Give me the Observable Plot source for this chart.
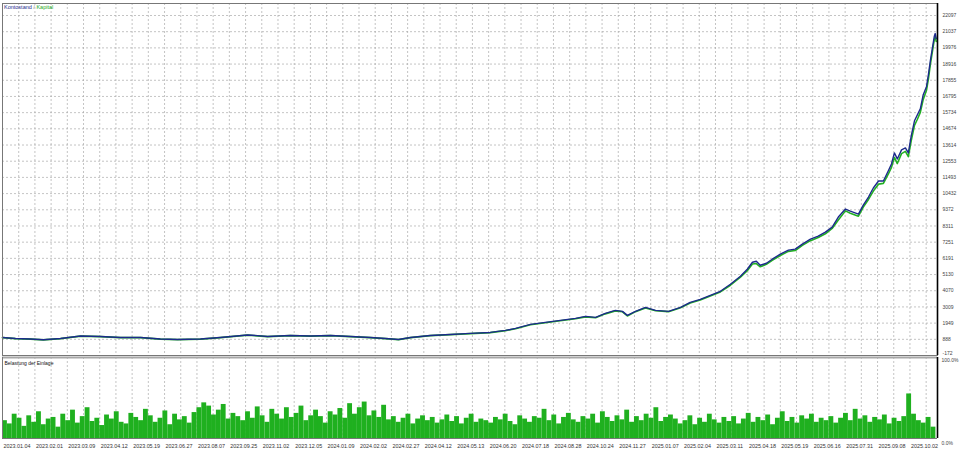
<!DOCTYPE html>
<html>
<head>
<meta charset="utf-8">
<script src="https://cdn.jsdelivr.net/npm/d3@7"></script>
<script src="https://cdn.jsdelivr.net/npm/@observablehq/plot@0.6"></script>
<style>
  html, body { margin: 0; padding: 0; background: #fff; }
  #wrap { position: relative; width: 960px; height: 451px; overflow: hidden; font-family: "Liberation Sans", sans-serif; }
  #wrap svg { display: block; }
  #legend { position: absolute; left: 4px; top: 3px; font-size: 5.5px; font-family: "Liberation Sans", sans-serif; line-height: 8px; }
</style>
</head>
<body>
<div id="wrap">
  <div id="main"></div>
  <div id="load"></div>
  <div id="legend"><span style="color:#1c2a8c">Kontostand</span><span style="color:#888"> / </span><span style="color:#1aa81a">Kapital</span></div>
</div>
<script>
// ---- data (deal number -> balance / equity) ----
const tradeNo = [0,40,86,126,179,241,302,364,426,487,540,611,672,756,818,888,950,1012,1074,1135,1182,1222,1259,1320,1382,1444,1505,1552,1583,1629,1675,1721,1768,1799,1830,1860,1891,1913,1928,1953,1984,2015,2055,2092,2122,2153,2184,2215,2246,2277,2298,2314,2326,2338,2357,2375,2400,2425,2446,2468,2493,2517,2539,2560,2579,2601,2616,2641,2656,2672,2687,2703,2718,2733,2743,2752,2761,2774,2786,2795,2804,2814,2823,2832,2841,2851,2857,2863,2869,2875,2878,2881];
const balance = [1011,945,912,859,945,1109,1077,1011,1011,912,879,912,1011,1175,1077,1142,1109,1142,1077,1011,945,879,1011,1142,1208,1274,1339,1471,1602,1865,1996,2128,2259,2390,2325,2587,2784,2719,2456,2719,2982,2784,2719,2982,3311,3508,3770,4033,4493,5018,5478,5938,6003,5741,5872,6135,6463,6726,6792,7120,7448,7645,7908,8237,8894,9419,9288,9090,9682,10207,10798,11258,11258,11915,12375,13097,12703,13294,13426,13097,14214,15200,15594,15988,16908,17433,18221,19141,19929,20717,20915,20586];
const equity = [1000,935,900,850,935,1095,1065,1000,1000,900,870,900,1000,1160,1065,1130,1095,1130,1065,1000,935,870,1000,1130,1195,1260,1325,1455,1585,1840,1975,2105,2235,2360,2300,2555,2750,2690,2420,2700,2940,2760,2700,2950,3270,3470,3730,3990,4430,4960,5380,5820,5850,5640,5800,6060,6380,6650,6700,7040,7350,7560,7800,8150,8700,9300,9150,8950,9550,10050,10600,11050,11100,11700,12150,12800,12400,13050,13200,12850,13900,14900,15300,15750,16600,17200,17950,18900,19700,20500,20700,20400];

// deposit load (%), one value per 15 deals
const loadStep = 15;
const loadPct = [22,18,30,25,15,28,20,33,17,24,
 26,14,30,22,35,19,27,38,21,25,
 16,29,24,33,20,18,31,26,22,36,
 28,20,25,34,17,30,23,27,19,32,
 38,44,40,29,35,42,24,31,27,22,
 33,25,39,28,20,36,30,24,38,26,
 31,40,22,28,35,27,19,33,29,37,
 25,43,30,38,45,28,34,26,41,23,
 27,20,25,30,18,24,28,22,26,19,
 23,29,21,27,18,25,30,20,24,22,
 19,26,23,30,21,17,28,24,20,27,
 25,36,22,29,18,26,31,23,20,27,
 24,30,19,33,26,21,28,23,35,20,
 27,22,30,25,38,21,26,29,24,18,
 22,28,17,25,20,30,23,19,26,21,
 27,18,24,31,20,26,22,29,17,25,
 33,21,26,19,28,24,30,20,25,22,
 27,19,25,31,22,36,24,28,20,26,
 23,29,18,25,21,27,55,30,22,19,26,14];

// axis labels
const yTicks = [-172,888,1949,3009,4070,5130,6191,7251,8311,9372,10432,11493,12553,13614,14674,15734,16795,17855,18916,19976,21037,22097];
const dateLabels = ["2023.01.04","2023.02.01","2023.03.09","2023.04.12","2023.05.19","2023.06.27","2023.08.07","2023.09.25","2023.11.02","2023.12.05","2024.01.09","2024.02.02","2024.02.27","2024.04.12","2024.05.13","2024.06.20","2024.07.18","2024.08.28","2024.10.24","2024.11.27","2025.01.07","2025.02.04","2025.03.11","2025.04.18","2025.05.19","2025.06.16","2025.07.31","2025.09.08","2025.10.02"];
const labelEvery = 100;   // deals between date labels
const gridEvery = 50;     // deals between vertical grid lines
const xMax = 2885;
const yTop = 22883;

// ---- derived tables ----
const series = tradeNo.map((t, i) => ({t, bal: balance[i], eq: equity[i]}));
const loads = loadPct.map((p, i) => ({t0: i * loadStep, t1: (i + 1) * loadStep, p}));
const gridX = d3.range(0, xMax, gridEvery);
const labelRows = dateLabels.map((s, i) => ({t: i * labelEvery, s}));
const yLabelRows = yTicks.map((v, i) => ({v, low: i === 0}));

const W = 960, ML = 2, MR = 23;
const font = "Liberation Sans, sans-serif";
const gridStyle = {stroke: "#a8a8a8", strokeOpacity: 0.85, strokeDasharray: "2,2", strokeWidth: 0.8};

const main = Plot.plot({
  width: W, height: 356,
  marginLeft: ML, marginRight: MR, marginTop: 3, marginBottom: 1,
  style: {fontFamily: font, background: "#fff"},
  x: {domain: [0, xMax], axis: null},
  y: {domain: [-172, yTop], axis: null},
  marks: [
    Plot.ruleX(gridX, gridStyle),
    Plot.ruleY(yTicks, gridStyle),
    Plot.line(series, {x: "t", y: "eq", stroke: "#22b022", strokeWidth: 1.6}),
    Plot.line(series, {x: "t", y: "bal", stroke: "#1c2a8c", strokeWidth: 1.4}),
    Plot.text(yLabelRows.filter(d => !d.low), {x: xMax, y: "v", text: d => String(d.v), textAnchor: "start", dx: 5, fontSize: 5, fill: "#444"}),
    Plot.text(yLabelRows.filter(d => d.low), {x: xMax, y: "v", text: d => String(d.v), textAnchor: "start", lineAnchor: "bottom", dx: 5, dy: -0.5, fontSize: 5, fill: "#444"}),
    Plot.frame({stroke: "#777", strokeWidth: 1}),
    Plot.ruleX([xMax], {stroke: "#000", strokeWidth: 1.6})
  ]
});

const load = Plot.plot({
  width: W, height: 95,
  marginLeft: ML, marginRight: MR, marginTop: 1, marginBottom: 13,
  style: {fontFamily: font, background: "#fff"},
  x: {domain: [0, xMax], axis: null},
  y: {domain: [0, 100], axis: null},
  marks: [
    Plot.ruleX(gridX, gridStyle),
    Plot.rectY(loads, {x1: "t0", x2: "t1", y: "p", fill: "#1fb01f", inset: 0}),
    Plot.ruleY([100], {stroke: "#a8a8a8", strokeWidth: 2}),
    Plot.text(["Belastung der Einlage"], {frameAnchor: "top-left", dx: 2, dy: 4, fontSize: 5, fill: "#111"}),
    Plot.text([100], {x: xMax, y: d => d, text: d => d.toFixed(1) + "%", textAnchor: "start", lineAnchor: "top", dx: 4, dy: 1, fontSize: 5, fill: "#444"}),
    Plot.text([0], {x: xMax, y: d => d, text: d => d.toFixed(1) + "%", textAnchor: "start", lineAnchor: "top", dx: 4, dy: 3, fontSize: 5, fill: "#444"}),
    Plot.text(labelRows, {x: "t", text: "s", frameAnchor: "bottom", textAnchor: "start", dx: 1, dy: 9, fontSize: 5.4, fill: "#333"}),
    Plot.ruleX([0], {stroke: "#777", strokeWidth: 1}),
    Plot.ruleY([0], {stroke: "#777", strokeWidth: 1}),
    Plot.ruleX([xMax], {stroke: "#000", strokeWidth: 1.6})
  ]
});

document.getElementById("main").appendChild(main);
document.getElementById("load").appendChild(load);
</script>
</body>
</html>
